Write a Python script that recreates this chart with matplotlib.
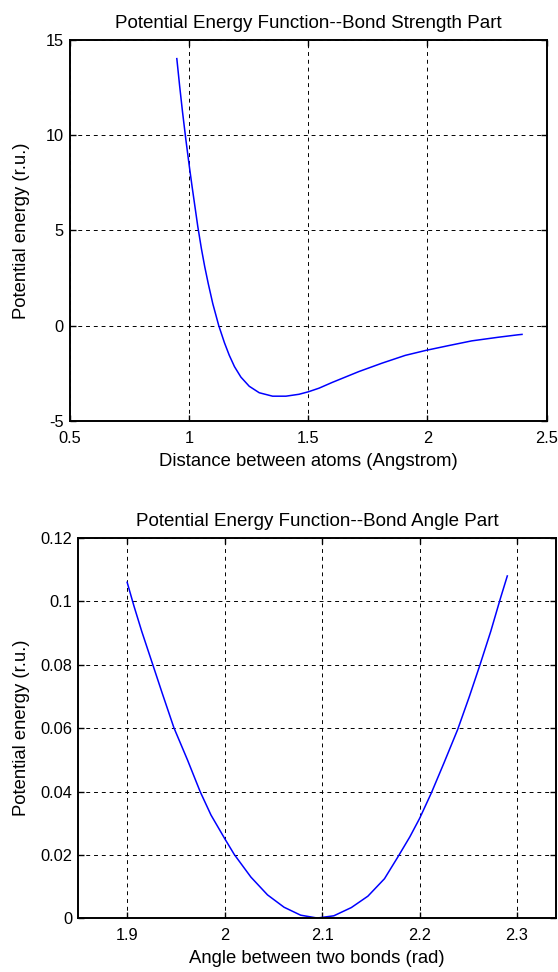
import matplotlib.pyplot as plt
from matplotlib.ticker import FuncFormatter

plt.rcParams['font.family'] = ['Liberation Sans', 'DejaVu Sans']

# bond strength part
r_dist = [0.948, 0.960, 0.972, 0.986, 1.000, 1.012, 1.024, 1.036, 1.051,
          1.065, 1.080, 1.099, 1.124, 1.148, 1.168, 1.190, 1.217, 1.252,
          1.294, 1.350, 1.406, 1.461, 1.500, 1.545, 1.600, 1.712, 1.809,
          1.907, 1.993, 2.088, 2.186, 2.297, 2.381, 2.397]
e_bond = [14.0, 12.55, 11.2, 9.75, 8.4, 7.3, 6.25, 5.2, 4.05,
          3.1, 2.2, 1.15, 0.0, -0.9, -1.55, -2.15, -2.7, -3.18,
          -3.52, -3.7, -3.7, -3.6, -3.47, -3.28, -2.98, -2.41, -1.97,
          -1.56, -1.3, -1.05, -0.80, -0.61, -0.48, -0.46]

# bond angle part
theta = [1.900, 1.907, 1.915, 1.926, 1.936, 1.948, 1.962, 1.975, 1.986,
         2.000, 2.010, 2.027, 2.044, 2.061, 2.078, 2.095, 2.112, 2.130,
         2.147, 2.164, 2.178, 2.190, 2.200, 2.212, 2.225, 2.239, 2.251,
         2.262, 2.273, 2.283, 2.290]
e_angle = [0.1060, 0.0985, 0.0905, 0.0803, 0.0710, 0.0601, 0.0499, 0.0399, 0.0326,
           0.0252, 0.0201, 0.0130, 0.0074, 0.0035, 0.0010, 0.0001, 0.0008, 0.0034,
           0.0070, 0.0125, 0.0195, 0.0257, 0.0315, 0.0395, 0.0490, 0.0595, 0.0699,
           0.0800, 0.0905, 0.1010, 0.1080]

fig = plt.figure(figsize=(5.58, 9.72), dpi=100)
fmt = FuncFormatter(lambda v, p: '%g' % v)

def matlab_style(ax):
    ax.grid(True, color='k', linestyle=(0, (4, 4)), linewidth=0.7)
    ax.tick_params(direction='in', top=True, right=True, labelsize=11.8,
                   length=4, width=1)
    ax.tick_params(axis='x', pad=7)
    ax.tick_params(axis='y', pad=4.5)
    ax.xaxis.set_major_formatter(fmt)
    ax.yaxis.set_major_formatter(fmt)
    for s in ax.spines.values():
        s.set_linewidth(1.4)

ax1 = fig.add_axes([0.1256, 0.5669, 0.8539, 0.3924])
ax1.plot(r_dist, e_bond, color='b', linewidth=1.1)
ax1.set_xlim(0.5, 2.5)
ax1.set_ylim(-5, 15)
ax1.set_xticks([0.5, 1, 1.5, 2, 2.5])
ax1.set_yticks([-5, 0, 5, 10, 15])
matlab_style(ax1)
ax1.set_title('Potential Energy Function--Bond Strength Part', fontsize=13.5, pad=8.4)
ax1.set_xlabel('Distance between atoms (Angstrom)', fontsize=13.3, labelpad=5)
ax1.set_ylabel('Potential energy (r.u.)', fontsize=13.3, labelpad=11)

ax2 = fig.add_axes([0.1405, 0.0552, 0.856, 0.3914])
ax2.plot(theta, e_angle, color='b', linewidth=1.1)
ax2.set_xlim(1.85, 2.34)
ax2.set_ylim(0, 0.12)
ax2.set_xticks([1.9, 2.0, 2.1, 2.2, 2.3])
ax2.set_yticks([0, 0.02, 0.04, 0.06, 0.08, 0.1, 0.12])
matlab_style(ax2)
ax2.set_title('Potential Energy Function--Bond Angle Part', fontsize=13.5, pad=8.6)
ax2.set_xlabel('Angle between two bonds (rad)', fontsize=13.3, labelpad=5)
ax2.set_ylabel('Potential energy (r.u.)', fontsize=13.3, labelpad=7)

fig.savefig('out.png', dpi=100)
